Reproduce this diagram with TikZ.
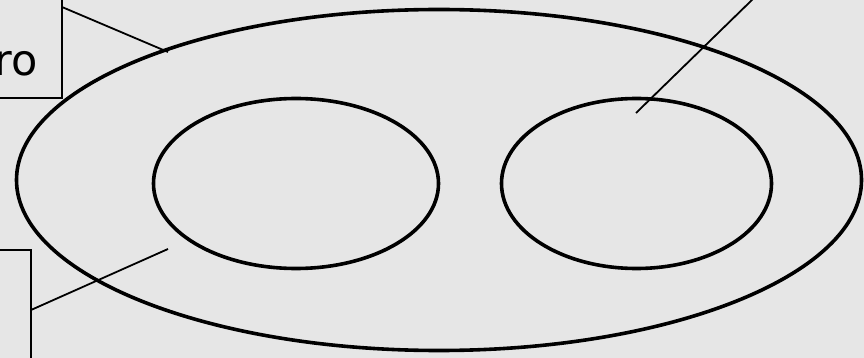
\documentclass[tikz,border=0pt]{standalone}
\usepackage{fontspec}
\setmainfont{DejaVu Sans}
\usetikzlibrary{shapes.geometric}
\definecolor{bgpaper}{RGB}{230,230,230}
\tikzset{
  setline/.style={line width=3.6pt, black},
  setshape/.style={setline, draw, ellipse, inner sep=0pt},
  labelbox/.style={draw=black, line width=1.8pt, fill=none},
  leader/.style={line width=1.8pt, black},
  lbltext/.style={font=\fontsize{43}{50}\selectfont, inner sep=0pt, anchor=base east}
}
\begin{document}
\begin{tikzpicture}[x=1pt,y=-1pt]
\useasboundingbox (0,0) rectangle (864,358);
\clip (0,0) rectangle (864,358);
\fill[bgpaper] (0,0) rectangle (864,358);
% sets
\node[setshape, minimum width=845pt, minimum height=341pt] (outer) at (439,180) {};
\node[setshape, minimum width=285pt, minimum height=170pt] (leftset) at (296,183.5) {};
\node[setshape, minimum width=270pt, minimum height=170pt] (rightset) at (636.5,183.5) {};
\coordinate (leftin) at (168,249);
\coordinate (rightin) at (636,113);
\coordinate (outerpt) at (168,52);
% label boxes
\draw[labelbox] (-30,-30) rectangle (62,98);
\node[lbltext] (lblA) at (38,76) {ro};
\draw[labelbox] (-30,250) rectangle (31,400);
\node[lbltext] (lblB) at (3,371) {o};
\coordinate (boxA) at (62,7);
\coordinate (boxB) at (31,310);
\coordinate (boxC) at (755,-3);
% leaders
\draw[leader] (boxA) -- (outerpt);
\draw[leader] (boxB) -- (leftin);
\draw[leader] (boxC) -- (rightin);
\end{tikzpicture}
\end{document}
